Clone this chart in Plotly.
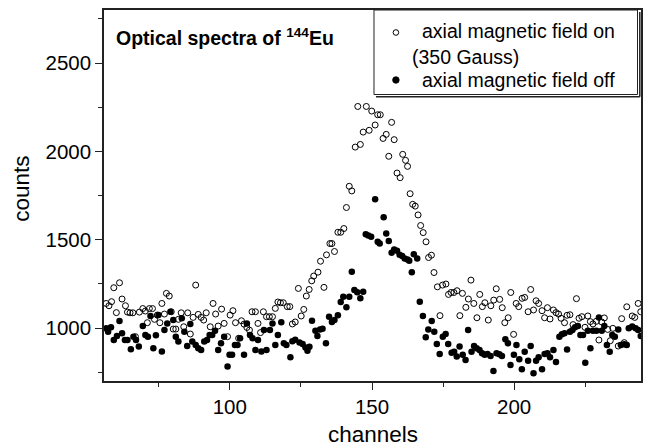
import plotly.graph_objects as go

# ---- data ----
on_x = [56.5, 57.5, 58.4, 59.2, 60.1, 61.2, 62.1, 63.3, 64.0, 64.9, 65.9, 66.8, 68.2, 69.4, 70.3, 71.0, 71.7, 72.8,
        73.5, 74.5, 75.4, 76.1, 77.0, 77.7, 78.7, 79.4, 80.1, 81.0, 81.9, 82.9, 83.8, 85.2, 86.1, 87.1, 88.0, 88.9,
        89.9, 90.8, 91.7, 93.1, 94.1, 95.0, 95.9, 97.1, 98.0, 99.2, 100.1, 101.1, 102.0, 103.1, 104.1, 105.0, 106.0,
        106.9, 107.8, 109.0, 109.9, 110.8, 111.8, 112.9, 113.9, 115.0, 116.0, 116.9,
        117.8, 118.8, 120.2, 121.1, 122.0, 123.0, 124.1, 125.1, 126.0, 126.9, 127.9, 128.8, 129.5,
        131.0, 131.9, 133.1, 134.0, 135.2, 135.9, 136.8, 138.0, 139.0, 140.1, 141.0, 142.0, 142.9, 144.1, 145.0,
        145.9, 146.9, 148.0, 149.0, 149.9, 151.1, 152.0, 152.9, 153.9, 155.0, 155.9, 156.9, 157.8, 158.8, 159.9,
        160.8, 161.8, 162.5,
        163.4, 164.3, 165.2, 166.2, 167.1, 168.0,
        169.0, 169.9, 170.9, 171.8, 173.0, 173.9, 174.8, 176.0, 176.9, 177.8, 178.8, 179.9, 180.9, 181.8, 183.0,
        183.9, 184.8, 185.8, 186.9, 187.9, 188.8, 189.7, 190.9, 191.8, 192.8, 193.7, 194.9, 195.8, 196.7, 197.9,
        198.8, 199.8, 200.7, 201.6, 202.8, 203.7, 204.9, 205.8, 206.8, 207.7, 208.6, 209.8, 210.7, 211.7, 212.6,
        213.8, 214.7, 215.6, 216.5, 217.7, 218.6, 219.6, 220.7, 221.9, 222.8, 223.8, 224.9, 225.9, 226.8, 227.7,
        228.9, 229.8, 230.8, 231.7, 232.9, 233.8, 234.7, 236.6, 237.8, 238.7, 239.6, 241.5, 242.4, 243.6, 244.5]
on_y = [1139, 1126, 1149, 1228, 1087, 1256, 1164, 1126, 1090, 1086, 1086, 951, 1090, 1110, 1096, 1030, 1110, 1110,
        1049, 1073, 1030, 1139, 1079, 1196, 1181, 1092, 994, 994, 1049, 1086, 1007, 1086, 966, 1060, 1243, 1077,
        1060, 1045, 1086, 1007, 1139, 1079, 1011, 1107, 1026, 951, 1073, 1098, 1030, 942, 1041, 1022, 1003,
        988, 1092, 1092, 1026, 974, 1092, 1064, 1064, 1064, 1111, 1147,
        1143, 1143, 1121, 1121, 1023, 1034, 1224, 1068, 1105, 1181, 1218, 1267, 1294,
        1316, 1378, 1230, 1414, 1478, 1478, 1433, 1542, 1542, 1563, 1682, 1802, 1776, 2024, 2254,
        2039, 2109, 2254, 2119, 2228, 2149, 2207, 2207, 2073, 2096, 1972, 2164, 2066, 1877, 1851,
        1983, 1949, 1915,
        1760, 1700, 1690, 1640, 1580, 1540,
        1488, 1399, 1412, 1314, 1233, 1070, 1243, 1249, 1190, 1201, 1201, 1211, 1070, 1196, 1117,
        1164, 1271, 1139, 1058, 1190, 1121, 1143, 1045, 1126, 1158, 1222, 1162, 1115, 1030, 1058,
        1201, 964, 1139, 1121, 1168, 1173, 1092, 1218, 1102, 1154, 1139, 1098, 1058, 1115, 1051,
        1102, 1087, 1079, 1055, 1030, 1072, 1075, 1019, 1166, 1055, 1064, 1004, 1068, 1036, 1023,
        1038, 932, 1034, 1057, 992, 928, 998, 898, 1053, 917, 1120, 1068, 1060, 1139, 1092]

off_x = [56.5, 57.2, 58.2, 59.2, 60.3, 61.2, 62.1, 63.1, 64.0, 65.2, 66.1, 67.0, 68.0, 69.4, 70.3, 71.2, 72.1, 73.1,
         74.0, 74.9, 76.1, 77.0, 78.0, 79.1, 80.1, 81.0, 81.9, 83.1, 84.0, 85.0, 86.1, 86.8, 88.0, 88.9, 89.9, 91.0,
         92.0, 92.9, 93.8, 94.8, 95.9, 96.9, 98.0, 99.2, 99.9, 100.8, 101.8, 102.7, 103.6, 105.0, 106.0, 107.1,
         108.0, 109.0, 109.9, 111.1, 112.0, 112.9, 114.1, 115.0, 116.0, 116.9,
         118.1, 119.0, 119.9, 121.3, 122.0, 123.0,
         124.5, 125.6, 126.6, 127.3, 128.0, 128.9, 130.1, 130.8, 131.7, 132.6, 133.8, 134.9, 135.9, 136.8, 138.0,
         139.0, 139.9, 141.0, 142.0, 142.9, 143.8, 144.8, 145.9, 146.9, 147.8, 148.7, 149.7, 151.1, 152.0, 152.7,
         154.1, 155.0, 155.9, 156.9, 157.8, 158.8, 159.7, 160.6, 161.5, 162.5,
         163.1, 164.0, 164.7, 165.9, 166.8, 167.9, 168.9, 169.8, 171.0, 171.9, 172.8, 173.8, 174.9, 175.9, 176.8,
         178.0, 178.9, 179.8, 180.8, 181.9, 182.9, 183.8, 185.0, 185.9, 186.8, 187.8, 188.7, 189.6, 190.6, 191.7,
         192.7, 193.8, 194.8, 195.7, 196.9, 197.8, 198.7, 199.9, 200.8, 201.8, 202.7, 203.7, 204.9, 205.8, 206.8,
         207.7, 208.6, 209.8, 210.7, 211.7, 212.6, 213.8, 214.7, 215.9, 216.8, 217.7, 218.6, 219.6, 220.5, 221.4,
         222.4, 223.3, 224.2, 225.0, 225.9, 226.8, 227.7, 228.9, 229.8, 230.8, 231.7, 232.6, 233.6, 234.5, 235.4,
         236.6, 237.5, 238.7, 239.6, 240.3, 241.5, 242.7, 243.6, 244.5]
off_y = [998, 979, 1004, 932, 955, 1039, 970, 932, 932, 880, 951, 932, 895, 1011, 960, 951, 1068, 885,
         959, 1073, 867, 989, 1026, 1092, 1045, 951, 923, 1055, 979, 898, 1023, 923, 904, 885, 876, 923,
         932, 960, 960, 985, 876, 914, 951, 782, 848, 848, 904, 904, 942, 848, 1026, 960,
         942, 876, 932, 867, 989, 876, 989, 1026, 904, 960,
         1032, 913, 904, 834, 925, 934,
         918, 909, 890, 871, 894, 1041, 985, 955, 992, 996, 913, 1064, 1034, 1045, 1072,
         1147, 1177, 1117, 1177, 1318, 1215, 1203, 1169, 1205, 1531, 1523, 1516, 1729, 1488, 1478,
         1627, 1535, 1493, 1426, 1444, 1437, 1414, 1407, 1394, 1388,
         1380, 1316, 1418, 1393, 1149, 1068, 947, 992, 1040, 979, 910, 853, 951, 966, 910,
         860, 866, 838, 895, 848, 819, 989, 866, 898, 885, 876, 857, 848, 853, 842,
         757, 857, 851, 842, 936, 913, 791, 848, 904, 823, 766, 866, 815, 898, 744,
         815, 834, 766, 853, 857, 834, 876, 808, 951, 964, 970, 879, 979, 989, 1004,
         1011, 960, 960, 804, 985, 885, 985, 985, 1060, 985, 1011, 904, 866, 960, 951,
         992, 904, 908, 904, 998, 1008, 998, 989, 955]

x_ticks = [100, 150, 200]
y_ticks = [1000, 1500, 2000, 2500]
title_text = "<b>Optical spectra of <sup>144</sup>Eu</b>"
legend_on = "axial magnetic field on"
legend_gauss = "(350 Gauss)"
legend_off = "axial magnetic field off"

FONT = "Liberation Sans, Arial, Helvetica, sans-serif"

fig = go.Figure()
fig.add_trace(go.Scatter(x=on_x, y=on_y, mode="markers", name=legend_on,
                         marker=dict(symbol="circle-open", size=6, color="black", line=dict(width=1, color="black"))))
fig.add_trace(go.Scatter(x=off_x, y=off_y, mode="markers", name=legend_off,
                         marker=dict(symbol="circle", size=6.5, color="black")))

axis_common = dict(showgrid=False, zeroline=False, showline=True, linecolor="#222", linewidth=1.5,
                   mirror=True, ticks="outside", ticklen=7, tickwidth=1.2, tickcolor="#222",
                   tickfont=dict(family=FONT, size=20.5, color="black"))

fig.update_xaxes(range=[55.75, 244.6], tickvals=x_ticks,
                 minor=dict(dtick=25, tick0=0, ticks="outside", ticklen=4, tickcolor="#222", tickwidth=1),
                 **axis_common)
fig.update_yaxes(range=[700, 2800], tickvals=y_ticks,
                 minor=dict(dtick=250, tick0=0, ticks="outside", ticklen=4, tickcolor="#222", tickwidth=1),
                 **axis_common)

W, H = 649, 448
L, R, T, B = 104, 6, 10, 67
pw, ph = W - L - R, H - T - B


def px(x):
    return (x - L) / pw


def py(y):
    return (H - B - y) / ph


annotations = [
    dict(text=title_text, x=px(114), y=py(37), xanchor="left", yanchor="middle",
         font=dict(family=FONT, size=19.5, color="black")),
    dict(text=legend_on, x=px(421), y=py(31.5), xanchor="left", yanchor="middle",
         font=dict(family=FONT, size=19.5, color="black")),
    dict(text=legend_gauss, x=px(411), y=py(56.5), xanchor="left", yanchor="middle",
         font=dict(family=FONT, size=19.5, color="black")),
    dict(text=legend_off, x=px(421), y=py(80), xanchor="left", yanchor="middle",
         font=dict(family=FONT, size=19.5, color="black")),
    dict(text="channels", x=px((L + W - R) / 2), y=py(434), xanchor="center", yanchor="middle",
         font=dict(family=FONT, size=22.5, color="black")),
    dict(text="counts", x=px(20.5), y=py(189), xanchor="center", yanchor="middle", textangle=-90,
         font=dict(family=FONT, size=22.5, color="black")),
]
for a in annotations:
    a.update(xref="paper", yref="paper", showarrow=False)

shapes = [
    # legend box
    dict(type="rect", xref="paper", yref="paper", x0=px(375), x1=px(639.5), y0=py(94.5), y1=py(10),
         line=dict(color="#222", width=1), fillcolor="rgba(0,0,0,0)", layer="above"),
    # shadow
    dict(type="line", xref="paper", yref="paper", x0=px(377), x1=px(641.8), y0=py(96.8), y1=py(96.8),
         line=dict(color="#222", width=1.5)),
    dict(type="line", xref="paper", yref="paper", x0=px(641.8), x1=px(641.8), y0=py(96.8), y1=py(12),
         line=dict(color="#222", width=1.5)),
    # legend symbols
    dict(type="circle", xref="paper", yref="paper", xsizemode="pixel", ysizemode="pixel",
         xanchor=px(397), yanchor=py(32.5), x0=-2.8, x1=2.8, y0=-2.8, y1=2.8,
         line=dict(color="black", width=1), fillcolor="white"),
    dict(type="circle", xref="paper", yref="paper", xsizemode="pixel", ysizemode="pixel",
         xanchor=px(397), yanchor=py(80), x0=-3.2, x1=3.2, y0=-3.2, y1=3.2,
         line=dict(color="black", width=1), fillcolor="black"),
]

fig.update_layout(
    width=W, height=H, autosize=False,
    margin=dict(l=L, r=R, t=T, b=B),
    paper_bgcolor="white", plot_bgcolor="white",
    showlegend=False,
    annotations=annotations, shapes=shapes,
    font=dict(family=FONT, color="black"),
)

fig.write_html("out.html")
